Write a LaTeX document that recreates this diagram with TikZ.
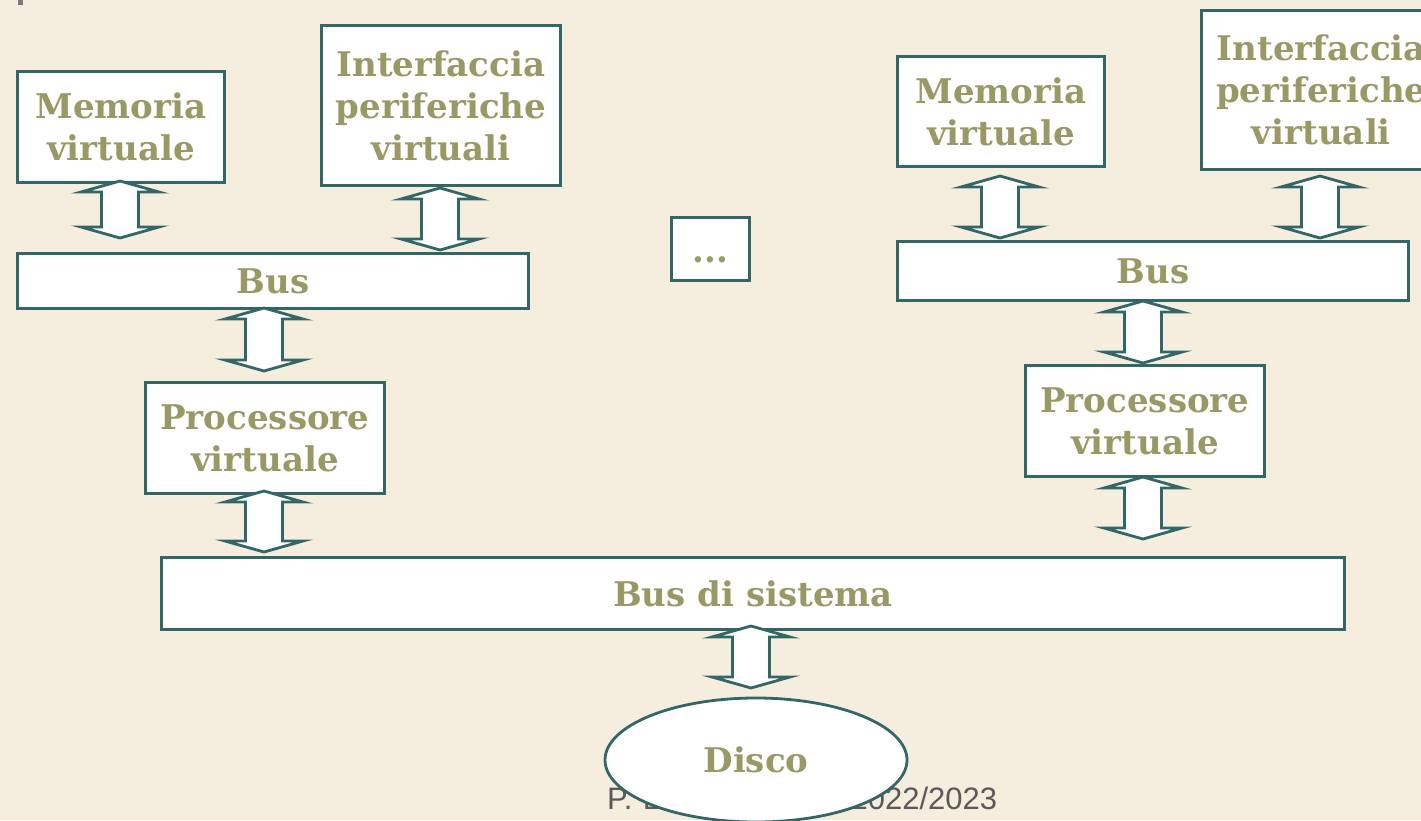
\documentclass[tikz,border=0pt]{standalone}
\usepackage{fontspec}
\setmainfont{DejaVu Serif}
\newfontfamily\footfont{Liberation Sans}
\usetikzlibrary{shapes.geometric}
\definecolor{bg}{HTML}{F5EEDF}
\definecolor{edge}{HTML}{336666}
\definecolor{olive}{HTML}{999966}
\definecolor{footgray}{HTML}{5A5A5A}
\tikzset{
  box/.style={draw=edge, line width=2.8pt, fill=white, text=olive,
    font=\bfseries\fontsize{34}{42}\selectfont, align=center, inner sep=0pt, anchor=north west},
  barrow/.style={draw=edge, line width=2.8pt, fill=white, line join=miter},
  foot/.style={text=footgray, font=\footfont\fontsize{31}{36}\selectfont, inner sep=0pt},
}
\newcommand\dblarr[3]{%
  \draw[barrow] (#1,#2) -- ({#1+39},{#2+11}) -- ({#1+18.5},{#2+11}) -- ({#1+18.5},{#3-11})
    -- ({#1+39},{#3-11}) -- (#1,#3) -- ({#1-39},{#3-11}) -- ({#1-18.5},{#3-11})
    -- ({#1-18.5},{#2+11}) -- ({#1-39},{#2+11}) -- cycle;}
\begin{document}
\begin{tikzpicture}[x=1pt,y=-1pt]
  \fill[bg] (0,0) rectangle (1421,820);
  \useasboundingbox (0,0) rectangle (1421,820);
  \clip (0,0) rectangle (1421,820);
  \fill[footgray!80] (18,0) rectangle (23,5);
  % left group
  \node[box, minimum width=207pt, minimum height=111pt] (mem1) at (16,70) {Memoria\\virtuale};
  \node[box, minimum width=239pt, minimum height=160pt] (int1) at (320,24) {Interfaccia\\periferiche\\virtuali};
  \node[box, minimum width=511pt, minimum height=55pt] (bus1) at (16,252) {\raisebox{-4pt}{Bus}};
  \node[box, minimum width=239pt, minimum height=111pt] (proc1) at (144,381) {Processore\\virtuale};
  % middle
  \node[box, minimum width=78pt, minimum height=63pt, text height=0pt, text depth=0pt] (dots) at (670,216) {\raisebox{-14pt}{...}};
  % right group
  \node[box, minimum width=207pt, minimum height=110pt] (mem2) at (896,55) {Memoria\\virtuale};
  \node[box, minimum width=240pt, minimum height=159pt] (int2) at (1200,9) {Interfaccia\\periferiche\\virtuali};
  \node[box, minimum width=511pt, minimum height=59pt] (bus2) at (896,240) {Bus};
  \node[box, minimum width=239pt, minimum height=111pt] (proc2) at (1024,364) {Processore\\virtuale};
  % system bus
  \node[box, minimum width=1183pt, minimum height=72pt] (sysbus) at (160,556) {Bus di sistema};
  % footer
  \node[foot, anchor=west, text width=390pt, align=left] (footer) at (607,798) {P. L\hfill 2022/2023};
  % disk
  \node[box, ellipse, anchor=center, minimum width=302pt, minimum height=124pt] (disco) at (756,760) {\raisebox{-4pt}{Disco}};
  % arrows
  \dblarr{120}{181}{238}
  \dblarr{440}{188}{250}
  \dblarr{264}{308}{371}
  \dblarr{264}{491}{552}
  \dblarr{1000}{176}{238}
  \dblarr{1320}{176}{238}
  \dblarr{1143}{301}{363}
  \dblarr{1143}{477}{539}
  \dblarr{751}{626}{688}
\end{tikzpicture}
\end{document}
